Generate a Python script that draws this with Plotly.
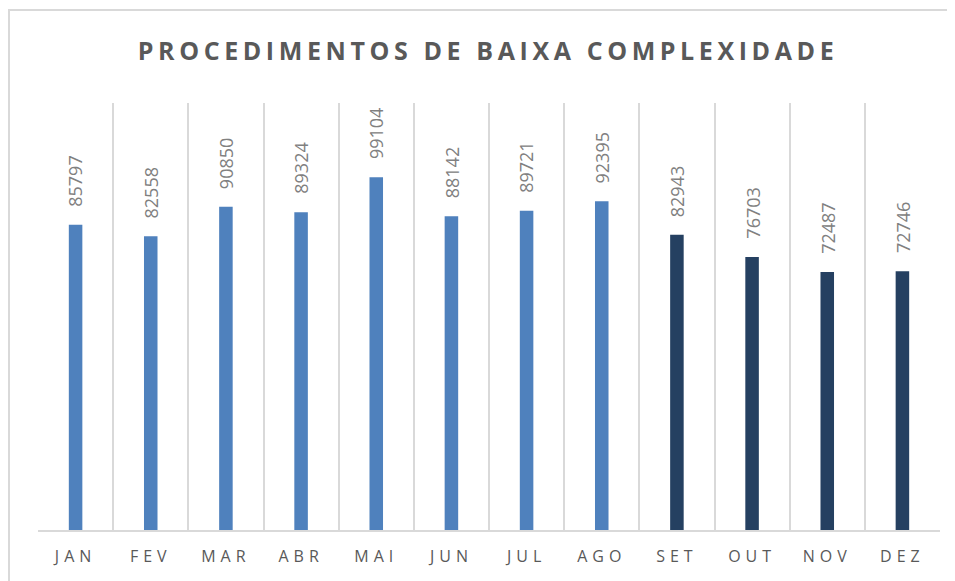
import plotly.graph_objects as go

months = ["JAN", "FEV", "MAR", "ABR", "MAI", "JUN", "JUL", "AGO", "SET", "OUT", "NOV", "DEZ"]
values = [85797, 82558, 90850, 89324, 99104, 88142, 89721, 92395, 82943, 76703, 72487, 72746]
bar_colors = ["#4F81BD"] * 8 + ["#254061"] * 4
title_text = "PROCEDIMENTOS DE BAIXA COMPLEXIDADE"

W, H = 947, 573
ML, MR, MT, MB = 30, 15, 95, 51
pw = W - ML - MR
ph = H - MT - MB

fig = go.Figure()
fig.add_trace(go.Bar(
    x=months, y=values, marker=dict(color=bar_colors, line=dict(width=0)),
    hoverinfo="x+y",
))

for m, v in zip(months, values):
    fig.add_annotation(
        x=m, y=v, text=str(v), textangle=-90, showarrow=False,
        xanchor="center", yanchor="bottom", yshift=16,
        font=dict(family="Open Sans", size=18, color="#808080"),
    )

fig.update_layout(
    width=W, height=H,
    margin=dict(l=ML, r=MR, t=MT, b=MB, pad=0),
    paper_bgcolor="white", plot_bgcolor="white",
    showlegend=False, bargap=0.82,
    title=dict(
        text='<span style="letter-spacing:4.6px">' + title_text + "</span>",
        x=(488 - 8) / W, xanchor="center", y=1 - (53 - 10) / H, yanchor="middle",
        font=dict(family="Open Sans", size=25, color="#595959", weight="bold"),
    ),
    xaxis=dict(
        type="category", tickson="boundaries", showgrid=True,
        gridcolor="#D9D9D9", gridwidth=2,
        showline=True, linecolor="#D9D9D9", linewidth=2,
        ticks="", ticklen=0, ticklabelstandoff=11,
        tickvals=months,
        ticktext=['<span style="letter-spacing:5px">' + m + "</span>" for m in months],
        tickfont=dict(family="Open Sans", size=16, color="#595959"),
        fixedrange=True,
    ),
    yaxis=dict(
        range=[0, 120000], showgrid=False, showticklabels=False,
        zeroline=False, showline=False, fixedrange=True,
    ),
    shapes=[dict(
        type="rect", xref="paper", yref="paper",
        x0=-(ML - 1) / pw, x1=1.05, y0=-0.2, y1=1 + (MT - 2) / ph,
        line=dict(color="#D9D9D9", width=2), fillcolor="rgba(0,0,0,0)",
        layer="below",
    )],
)

fig.write_html("out.html")
